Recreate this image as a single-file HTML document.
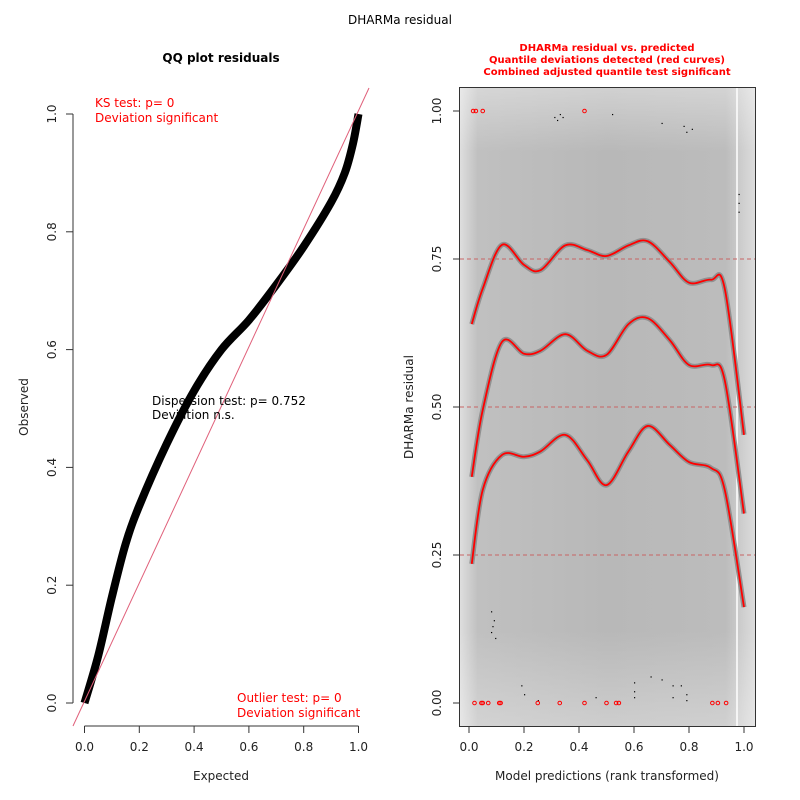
<!DOCTYPE html>
<html><head><meta charset="utf-8"><style>
body{margin:0;background:#fff}
svg{display:block;font-family:"DejaVu Sans","Liberation Sans",sans-serif}
</style></head><body>
<svg id="c" width="800" height="800" viewBox="0 0 800 800">
<defs>
<linearGradient id="bgx" x1="0" x2="1" y1="0" y2="0">
<stop offset="0" stop-color="#dedede"/><stop offset="0.06" stop-color="#c0c0c0"/>
<stop offset="0.5" stop-color="#b8b8b8"/><stop offset="0.9" stop-color="#bcbcbc"/><stop offset="1" stop-color="#dcdcdc"/>
</linearGradient>
<linearGradient id="bgy" x1="0" x2="0" y1="0" y2="1">
<stop offset="0" stop-color="#fff" stop-opacity="0.35"/><stop offset="0.1" stop-color="#fff" stop-opacity="0"/>
<stop offset="0.85" stop-color="#fff" stop-opacity="0"/><stop offset="1" stop-color="#fff" stop-opacity="0.3"/>
</linearGradient>
</defs>
<text x="400" y="24" font-size="12" text-anchor="middle">DHARMa residual</text>
<g id="left"></g>
<g id="right"></g>
</svg>
<script>
const NS="http://www.w3.org/2000/svg";
function mk(p,t,a){const e=document.createElementNS(NS,t);for(const k in a)e.setAttribute(k,a[k]);p.appendChild(e);return e;}
// ---- QQ data ----
const qqExpected=[0,0.05,0.1,0.15,0.2,0.3,0.4,0.5,0.6,0.7,0.8,0.9,0.95,0.98,1.0];
const qqObserved=[0,0.08,0.18,0.27,0.335,0.44,0.53,0.6,0.65,0.71,0.775,0.85,0.9,0.95,1.0];
const xTicks=[0,0.2,0.4,0.6,0.8,1.0];
const yTicksL=[0,0.2,0.4,0.6,0.8,1.0];
// ---- residual data ----
const qx=[0.01,0.05,0.12,0.2,0.26,0.35,0.43,0.5,0.58,0.65,0.73,0.8,0.88,0.93,1.0];
const q75=[0.64,0.70,0.774,0.74,0.731,0.773,0.765,0.755,0.773,0.78,0.745,0.71,0.715,0.70,0.453];
const q50=[0.382,0.495,0.61,0.59,0.595,0.623,0.595,0.588,0.64,0.65,0.613,0.571,0.571,0.545,0.32];
const q25=[0.235,0.36,0.419,0.416,0.425,0.453,0.41,0.368,0.425,0.468,0.436,0.407,0.397,0.36,0.162];
const yTicksR=[0,0.25,0.5,0.75,1.0];
const outTopX=[0.015,0.025,0.05,0.42];
const outBotX=[0.02,0.045,0.05,0.07,0.11,0.115,0.25,0.33,0.42,0.5,0.535,0.545,0.885,0.905,0.935];
const dotX=[0.31,0.32,0.33,0.34,0.52,0.7,0.78,0.79,0.81,0.08,0.085,0.09,0.08,0.095,0.19,0.2,0.25,0.46,0.6,0.6,0.6,0.66,0.7,0.74,0.74,0.77,0.79,0.79,0.98,0.98,0.98];
const dotY=[0.99,0.985,0.995,0.99,0.995,0.98,0.975,0.965,0.97,0.155,0.13,0.14,0.12,0.11,0.03,0.015,0.005,0.01,0.035,0.02,0.01,0.045,0.04,0.03,0.01,0.03,0.015,0.005,0.86,0.845,0.83];

// ---- left ----
const L=document.getElementById('left');
const lx=v=>84.5+v*274, ly=v=>703-v*589;
let a=mk(L,'line',{x1:lx(0),x2:lx(1),y1:726,y2:726,stroke:'#333'});

xTicks.forEach(t=>{mk(L,'line',{x1:lx(t),x2:lx(t),y1:726,y2:733,stroke:'#333'});
 const e=mk(L,'text',{x:lx(t),y:751,'font-size':12,'text-anchor':'middle',fill:'#222'});e.textContent=t.toFixed(1);
 });
a=mk(L,'line',{x1:73,x2:73,y1:ly(0),y2:ly(1),stroke:'#333'});

yTicksL.forEach(t=>{mk(L,'line',{x1:66,x2:73,y1:ly(t),y2:ly(t),stroke:'#333'});
 const e=mk(L,'text',{x:0,y:0,'font-size':12,'text-anchor':'middle',fill:'#222',transform:`translate(56,${ly(t)}) rotate(-90)`});e.textContent=t.toFixed(1);
 });
let t=mk(L,'text',{x:221,y:62,'font-size':12,'font-weight':'bold','text-anchor':'middle'});t.textContent='QQ plot residuals';

t=mk(L,'text',{x:221,y:780,'font-size':12,'text-anchor':'middle',fill:'#222'});t.textContent='Expected';

t=mk(L,'text',{x:0,y:0,'font-size':12,'text-anchor':'middle',fill:'#222',transform:'translate(28,407) rotate(-90)'});t.textContent='Observed';

function pathOf(xs,ys,fx,fy){let d='';const P=xs.map((x,i)=>[fx(x),fy(ys[i])]);
 d='M'+P[0][0]+','+P[0][1];for(let i=0;i<P.length-1;i++){const p0=P[Math.max(0,i-1)],p1=P[i],p2=P[i+1],p3=P[Math.min(P.length-1,i+2)];
 d+=` C${p1[0]+(p2[0]-p0[0])/6},${p1[1]+(p2[1]-p0[1])/6} ${p2[0]-(p3[0]-p1[0])/6},${p2[1]-(p3[1]-p1[1])/6} ${p2[0]},${p2[1]}`;}return d;}
let qq=mk(L,'path',{d:pathOf(qqExpected,qqObserved,lx,ly),fill:'none',stroke:'#000','stroke-width':8});

let ref=mk(L,'line',{x1:73,y1:726,x2:369,y2:88,stroke:'#e0607a','stroke-width':1});

const ann=[[95,107,'KS test: p= 0','ks-test'],[95,122,'Deviation  significant','ks-deviation'],[237,702,'Outlier test: p= 0','outlier-test'],[237,717,'Deviation  significant','outlier-deviation']];
ann.forEach(r=>{const e=mk(L,'text',{x:r[0],y:r[1],'font-size':12,fill:'#ff0000','xml:space':'preserve'});e.textContent=r[2];});
t=mk(L,'text',{x:152,y:405,'font-size':12});t.textContent='Dispersion test: p= 0.752';
t=mk(L,'text',{x:152,y:419,'font-size':12,'xml:space':'preserve'});t.textContent='Deviation  n.s.';

// ---- right ----
const R=document.getElementById('right');
const rx=v=>469+v*275, ry=v=>703-v*592;
let bg=mk(R,'rect',{x:460,y:88,width:295,height:638,fill:'url(#bgx)'});
mk(R,'rect',{x:460,y:88,width:295,height:638,fill:'url(#bgy)'});
mk(R,'line',{x1:737,x2:737,y1:88,y2:726,stroke:'#fff','stroke-width':1.5});
[0.25,0.5,0.75].forEach(v=>{const e=mk(R,'line',{x1:460,x2:755,y1:ry(v),y2:ry(v),stroke:'#c86464','stroke-dasharray':'4,3','stroke-width':1});
 });
[[q25,'q25'],[q50,'q50'],[q75,'q75']].forEach(([arr,n])=>{
 const d=pathOf(qx,arr,rx,ry);
 const b=mk(R,'path',{d:d,fill:'none',stroke:'#919191','stroke-width':5});
 const c=mk(R,'path',{d:d,fill:'none',stroke:'#ff0000','stroke-width':1.8});});
dotX.forEach((x,i)=>{const e=mk(R,'rect',{x:rx(x),y:ry(dotY[i]),width:1.2,height:1.2,fill:'#000'});});
outTopX.forEach(x=>{const e=mk(R,'circle',{cx:rx(x),cy:ry(1),r:1.8,fill:'none',stroke:'#ff0000','stroke-width':1});});
outBotX.forEach(x=>{const e=mk(R,'circle',{cx:rx(x),cy:ry(0),r:1.8,fill:'none',stroke:'#ff0000','stroke-width':1});});
let box=mk(R,'rect',{x:459.5,y:87.5,width:296,height:639,fill:'none',stroke:'#333'});
xTicks.forEach(v=>{mk(R,'line',{x1:rx(v),x2:rx(v),y1:727,y2:733,stroke:'#333'});
 const e=mk(R,'text',{x:rx(v),y:751,'font-size':12,'text-anchor':'middle',fill:'#222'});e.textContent=v.toFixed(1);});
yTicksR.forEach(v=>{mk(R,'line',{x1:453,x2:459,y1:ry(v),y2:ry(v),stroke:'#333'});
 const e=mk(R,'text',{x:0,y:0,'font-size':12,'text-anchor':'middle',fill:'#222',transform:`translate(441,${ry(v)}) rotate(-90)`});e.textContent=v.toFixed(2);});
t=mk(R,'text',{x:607,y:780,'font-size':12,'text-anchor':'middle',fill:'#222'});t.textContent='Model predictions (rank transformed)';
t=mk(R,'text',{x:0,y:0,'font-size':12,'text-anchor':'middle',fill:'#222',transform:'translate(413,407) rotate(-90)'});t.textContent='DHARMa residual';
[['DHARMa residual vs. predicted',51],['Quantile deviations detected (red curves)',63],['Combined adjusted quantile test significant',75]].forEach(([s,y],i)=>{
 const e=mk(R,'text',{x:607,y:y,'font-size':10,'font-weight':'bold','text-anchor':'middle',fill:'#ff0000'});e.textContent=s;
 });
</script>
</body></html>
